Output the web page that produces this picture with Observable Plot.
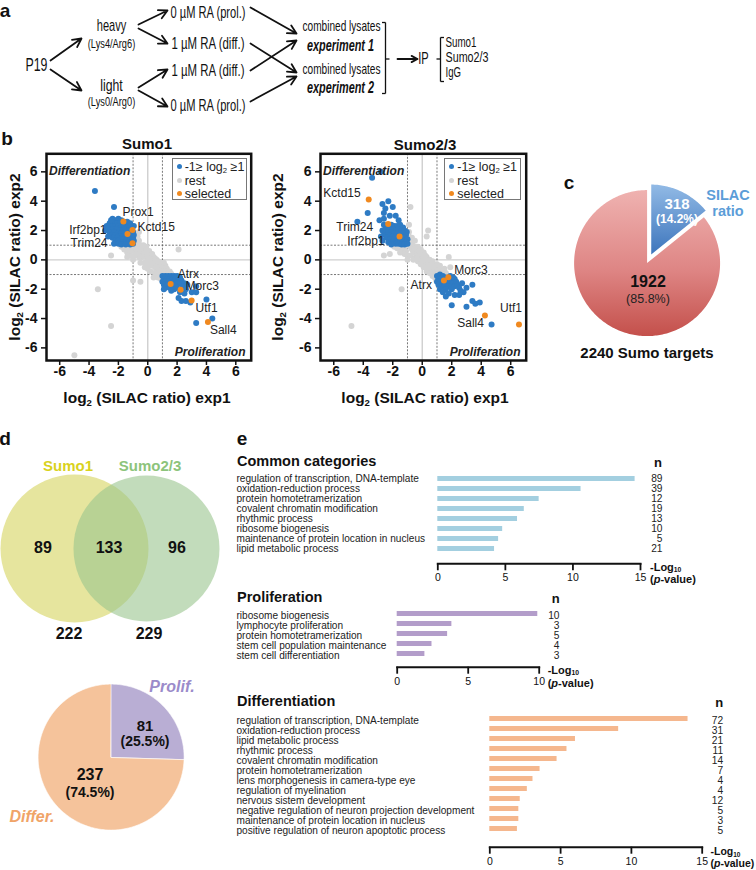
<!DOCTYPE html>
<html><head><meta charset="utf-8">
<script src="https://cdn.jsdelivr.net/npm/d3@7"></script>
<script src="https://cdn.jsdelivr.net/npm/@observablehq/plot@0.6"></script>
<style>
body{margin:0;background:#fff;}
#fig{position:relative;width:756px;height:870px;overflow:hidden;background:#fff;font-family:"Liberation Sans",Arial,Helvetica,sans-serif;color:#111;}
.lbl{position:absolute;white-space:nowrap;line-height:1;}
.box{position:absolute;}
.box svg{overflow:visible;}
sub{font-size:0.62em;vertical-align:-0.28em;line-height:0;}
</style></head><body><div id="fig"></div>
<script>
// ---------------- DATA ----------------
// panel a
const sourceLine = "P19";
const labelTypes = ["heavy", "light"];
const labelIsotopes = ["(Lys4/Arg6)", "(Lys0/Arg0)"];
const treatments = ["0 µM RA (prol.)", "1 µM RA (diff.)", "1 µM RA (diff.)", "0 µM RA (prol.)"];
const lysates = ["combined lysates", "combined lysates"];
const experiments = ["experiment 1", "experiment 2"];
const ipLabel = "IP";
const ipTargets = ["Sumo1", "Sumo2/3", "IgG"];

// panel b : points [log2 exp1, log2 exp2]
const sumo1Blue = [[-3.6,4.7],[-2.3,3.6],[-2.4,2.8],[-2.2,2.7],[-2.0,2.8],[-1.8,2.7],[-1.6,2.6],[-2.6,2.5],[-2.3,2.5],[-2.1,2.5],[-1.9,2.5],[-1.7,2.4],[-1.5,2.4],[-1.3,2.4],[-2.5,2.3],[-2.2,2.3],[-2.0,2.3],[-1.8,2.2],[-1.6,2.2],[-1.4,2.2],[-1.2,2.2],[-2.7,2.1],[-2.4,2.1],[-2.1,2.1],[-1.9,2.0],[-1.7,2.0],[-1.5,2.0],[-1.3,2.0],[-1.1,2.1],[-2.6,1.9],[-2.3,1.9],[-2.0,1.8],[-1.8,1.8],[-1.6,1.8],[-1.4,1.8],[-1.2,1.8],[-1.0,1.9],[-2.5,1.7],[-2.2,1.7],[-1.9,1.6],[-1.7,1.6],[-1.5,1.6],[-1.3,1.6],[-1.1,1.6],[-2.4,1.5],[-2.1,1.5],[-1.8,1.4],[-1.6,1.4],[-1.4,1.4],[-1.2,1.4],[-1.0,1.5],[-2.2,1.3],[-2.0,1.3],[-1.7,1.2],[-1.5,1.2],[-1.3,1.2],[-1.1,1.2],[-0.95,1.3],[-2.3,1.1],[-2.0,1.1],[-1.8,1.05],[-1.5,1.05],[-1.2,1.05],[-1.0,1.1],[-2.8,2.3],[-2.5,2.7],[-1.4,2.6],[-1.2,2.5],[-0.95,2.3],[-0.95,1.7],[-2.7,1.6],[-2.9,2.0],
 [1.0,-1.1],[1.2,-1.1],[1.4,-1.1],[1.6,-1.1],[1.8,-1.1],[2.0,-1.1],[2.2,-1.2],[1.1,-1.3],[1.3,-1.3],[1.5,-1.3],[1.7,-1.3],[1.9,-1.3],[2.1,-1.4],[2.3,-1.4],[1.0,-1.5],[1.2,-1.5],[1.4,-1.5],[1.8,-1.5],[2.0,-1.6],[2.2,-1.6],[2.5,-1.6],[1.1,-1.7],[1.3,-1.7],[1.7,-1.7],[1.9,-1.8],[2.4,-1.8],[1.2,-1.9],[1.5,-1.9],[1.8,-2.0],[2.0,-1.9],[2.6,-2.0],[1.1,-2.0],[2.2,-2.2],[2.7,-1.7],[3.3,-1.8],[3.0,-2.2],[3.3,-2.2],[2.3,-2.8],[2.6,-2.8],[2.1,-2.6],[2.9,-2.9],[4.0,-2.7],[4.4,-4.0],[3.3,-4.3],[2.5,-2.3],[1.6,-2.1]];
const sumo1Gray = [[-2.5,0.3],[-1.8,0.9],[-1.6,0.7],[-1.5,0.9],[-1.4,0.5],[-1.3,0.8],[-1.2,0.3],[-1.1,0.9],[-1.0,0.6],[-0.9,1.0],[-0.9,1.4],[-0.8,1.2],[-0.7,1.6],[-0.6,1.3],[-0.8,0.8],[-0.7,0.9],[-0.6,0.7],[-0.5,1.0],[-0.5,0.5],[-0.4,0.8],[-0.3,0.6],[-0.3,0.3],[-0.2,0.5],[-0.1,0.2],[0.0,0.3],[0.0,-0.1],[0.1,0.1],[0.2,-0.2],[0.3,0.0],[0.3,-0.4],[0.4,-0.2],[0.5,-0.5],[0.6,-0.3],[0.6,-0.7],[0.7,-0.5],[0.8,-0.8],[0.9,-0.6],[0.9,-1.0],[1.0,-0.8],[1.1,-0.7],[1.2,-0.9],[1.3,-0.6],[1.4,-0.9],[1.5,-0.8],[1.6,-0.95],[0.8,-1.1],[0.7,-1.2],[0.9,-1.3],[0.5,-0.9],[-0.2,-0.2],[-0.4,0.2],[-0.6,0.2],[-0.8,0.4],[-1.0,0.2],[0.2,0.4],[0.4,0.2],[0.6,0.0],[0.8,-0.3],[-0.1,0.6],[-0.3,1.0],[-0.1,0.9],[0.1,0.6],[0.3,0.4],[0.5,0.1],[0.7,-0.1],[1.0,-0.4],[1.2,-0.4],[-1.2,0.6],[-1.4,0.2],[-0.5,-0.2],[-0.2,-0.5],[0.0,-0.6],[0.2,-0.8],[0.4,-1.2],[-0.5,-1.5],[-1.0,-1.4],[-3.4,-2.0],[-2.5,-4.5],[-5.0,-6.5],[2.1,0.7],[-0.8,1.8],[-0.6,1.9],[-1.0,0.0],[0.1,-0.3],[-0.7,0.4],[0.9,-0.2],[1.1,-0.2]];
const sumo1SelNames = ["Prox1","Kctd15","Irf2bp1","Trim24","Atrx","Morc3","Utf1","Sall4"];
const sumo1SelX = [-1.66,-1.04,-1.38,-1.04,1.56,2.24,2.99,4.1];
const sumo1SelY = [2.61,2.04,1.77,1.13,-1.64,-2.04,-2.77,-4.23];

const sumo2Blue = [[-2.8,6.0],[-3.4,5.6],[-3.7,3.2],[-4.4,2.6],[-2.3,4.0],[-2.7,3.8],[-2.5,3.5],[-2.0,3.6],[-2.6,3.2],[-2.2,3.0],[-1.8,3.0],[-2.9,2.7],[-2.6,2.8],[-1.6,2.7],
 [-2.6,2.4],[-2.3,2.3],[-2.1,2.4],[-1.9,2.3],[-1.7,2.3],[-1.5,2.4],[-1.3,2.2],[-2.5,2.1],[-2.2,2.1],[-2.0,2.1],[-1.8,2.0],[-1.6,2.1],[-1.4,2.0],[-1.2,2.0],[-1.05,1.9],[-2.6,1.9],[-2.4,1.9],[-2.1,1.9],[-1.9,1.8],[-1.7,1.8],[-1.5,1.8],[-1.3,1.8],[-1.1,1.7],[-2.5,1.7],[-2.3,1.7],[-2.0,1.6],[-1.8,1.6],[-1.6,1.5],[-1.4,1.5],[-1.2,1.5],[-1.0,1.4],[-2.4,1.5],[-2.2,1.4],[-1.9,1.4],[-1.7,1.3],[-1.5,1.3],[-1.3,1.3],[-1.1,1.2],[-2.3,1.2],[-2.0,1.2],[-1.8,1.1],[-1.6,1.1],[-1.4,1.05],[-1.2,1.05],[-1.0,1.1],[-2.1,1.05],[-2.7,1.3],[-2.8,1.6],[-2.7,2.0],
 [1.0,-1.1],[1.2,-1.0],[1.4,-1.1],[1.6,-1.2],[1.9,-1.1],[2.1,-1.2],[1.1,-1.3],[1.3,-1.3],[1.6,-1.4],[1.8,-1.3],[2.0,-1.4],[2.2,-1.3],[1.0,-1.5],[1.2,-1.5],[1.4,-1.6],[1.7,-1.6],[1.9,-1.6],[2.1,-1.6],[2.3,-1.5],[1.1,-1.7],[1.3,-1.8],[1.5,-1.8],[1.8,-1.8],[2.0,-1.8],[2.2,-1.8],[2.4,-1.7],[1.2,-2.0],[1.6,-2.0],[2.0,-2.0],[2.5,-1.9],[1.4,-2.2],[1.8,-2.3],[2.2,-2.4],[2.5,-2.4],[1.6,-2.5],[2.0,-3.1],[2.7,-1.6],[3.0,-1.9],[2.8,-2.2],[3.4,-1.7],[3.4,-2.8],[3.6,-3.0],[3.0,-3.2],[3.9,-2.9],[4.7,-4.4],[2.6,-2.1]];
const sumo2Gray = [[-4.8,-4.5],[-1.4,-2.0],[-2.6,0.3],[-2.2,0.4],[-0.8,3.6],[0.4,2.0],[0.3,1.6],[1.9,-0.5],[1.8,0.2],[-0.9,2.4],
 [-1.9,0.9],[-1.7,0.8],[-1.5,0.9],[-1.4,0.7],[-1.2,0.9],[-1.1,0.6],[-0.95,1.2],[-0.9,1.6],[-0.8,1.3],[-0.8,0.9],[-0.7,1.1],[-0.7,0.7],[-0.6,0.9],[-0.6,0.5],[-0.5,0.8],[-0.5,1.3],[-0.4,0.6],[-0.4,0.3],[-0.3,0.5],[-0.3,0.9],[-0.2,0.3],[-0.2,0.1],[-0.1,0.4],[0.0,0.1],[0.0,-0.2],[0.1,0.2],[0.1,-0.1],[0.2,-0.3],[0.2,0.0],[0.3,-0.2],[0.3,-0.5],[0.4,-0.3],[0.5,-0.5],[0.5,-0.2],[0.6,-0.6],[0.6,-0.4],[0.7,-0.7],[0.7,-0.3],[0.8,-0.8],[0.8,-0.5],[0.9,-1.0],[0.9,-0.7],[1.0,-0.8],[1.0,-0.6],[1.1,-0.9],[1.2,-0.7],[1.3,-0.9],[1.4,-0.8],[1.5,-0.6],[1.6,-0.9],[0.85,-1.2],[0.7,-1.1],[0.95,-1.4],[-1.2,0.4],[-1.0,0.3],[-0.8,0.3],[-0.5,0.1],[-0.3,-0.1],[-0.1,-0.3],[0.1,-0.5],[0.3,-0.8],[0.5,-0.9],[-0.1,0.7],[0.1,0.5],[0.3,0.2],[0.5,0.0],[0.7,-0.1],[1.0,-0.3],[1.2,-0.4],[-0.7,1.5],[-0.9,1.9],[-1.5,0.5],[-0.6,0.0],[-0.2,0.6],[0.2,0.3],[-1.0,0.0]];
const sumo2SelNames = ["Kctd15","Trim24","Irf2bp1","Morc3","Atrx","Sall4","Utf1"];
const sumo2SelX = [-3.63,-2.31,-1.54,1.77,1.47,4.25,6.56];
const sumo2SelY = [4.11,2.45,1.59,-1.18,-1.41,-3.8,-4.41];
const scatterTicks = [-6,-4,-2,0,2,4,6];
const legendItems = ["-1≥ log<sub>2</sub> ≥1", "rest", "selected"];

// panel c
const pieCLabels = ["SILAC ratio", "other"];
const pieCCounts = [318, 1922];
const pieCTotalLabel = "Sumo targets";

// panel d
const vennNames = ["Sumo1", "Sumo2/3"];
const vennOnly = [89, 96];
const vennShared = 133;
const vennTotals = [222, 229];
const pieDLabels = ["Prolif.", "Differ."];
const pieDCounts = [81, 237];

// panel e
const commonTerms = ["regulation of transcription, DNA-template","oxidation-reduction process","protein homotetramerization","covalent chromatin modification","rhythmic process","ribosome biogenesis","maintenance of protein location in nucleus","lipid metabolic process"];
const commonLogP = [14.6,10.6,7.5,6.4,5.9,4.8,4.5,4.2];
const commonN = [89,39,12,19,13,10,5,21];
const prolTerms = ["ribosome biogenesis","lymphocyte proliferation","protein homotetramerization","stem cell population maintenance","stem cell differentiation"];
const prolLogP = [9.9,3.85,3.55,2.45,1.95];
const prolN = [10,3,5,4,3];
const diffTerms = ["regulation of transcription, DNA-template","oxidation-reduction process","lipid metabolic process","rhythmic process","covalent chromatin modification","protein homotetramerization","lens morphogenesis in camera-type eye","regulation of myelination","nervous sistem development","negative regulation of neuron projection development","maintenance of protein location in nucleus","positive regulation of neuron apoptotic process"];
const diffLogP = [14.0,9.1,6.05,5.45,4.75,3.55,3.05,2.65,2.15,2.05,2.05,1.95];
const diffN = [72,31,21,11,14,7,4,4,12,5,3,5];

// ---------------- HELPERS ----------------
const FONT = '"Liberation Sans", Arial, Helvetica, sans-serif';
const fig = document.getElementById("fig");
function put(node, left, top) {
  const w = document.createElement("div");
  w.className = "box"; w.style.left = left + "px"; w.style.top = top + "px";
  w.appendChild(node); fig.appendChild(w); return node;
}
function label(html, x, y, o = {}) {
  const d = document.createElement("div");
  d.className = "lbl"; d.innerHTML = html;
  const ax = o.anchor === "start" ? "0" : o.anchor === "end" ? "-100%" : "-50%";
  d.style.left = x + "px"; d.style.top = y + "px";
  d.style.transform = `translate(${ax},-50%)` + (o.rotate ? ` rotate(${o.rotate}deg)` : "");
  d.style.fontSize = (o.size || 12) + "px";
  if (o.bold) d.style.fontWeight = "bold";
  if (o.italic) d.style.fontStyle = "italic";
  if (o.color) d.style.color = o.color;
  fig.appendChild(d);
}
const pct = (v, tot) => (100 * v / tot).toFixed(1) + "%";

// ---------------- PANEL A (diagram) ----------------
// layout: position, font size and the (condensed) width each text occupies
const aText = [
  {text: sourceLine, x: 36, y: 65, size: 18, w: 22},
  {text: labelTypes[0], x: 111, y: 25, size: 17, w: 29.5},
  {text: labelIsotopes[0], x: 111, y: 43.5, size: 12.5, w: 47.5},
  {text: labelTypes[1], x: 111, y: 85, size: 17, w: 22.5},
  {text: labelIsotopes[1], x: 111, y: 101, size: 12.5, w: 47.5},
  {text: treatments[0], x: 207.5, y: 12, size: 16, w: 75},
  {text: treatments[1], x: 207.5, y: 43, size: 16, w: 73},
  {text: treatments[2], x: 207.5, y: 70, size: 16, w: 73},
  {text: treatments[3], x: 207.5, y: 105, size: 16, w: 75},
  {text: lysates[0], x: 341, y: 26, size: 15, w: 78},
  {text: lysates[1], x: 341, y: 68.5, size: 15, w: 78},
  {text: ipLabel, x: 423, y: 58.5, size: 17, w: 10.5}
];
const aBold = [{text: experiments[0], x: 340, y: 45, w: 67}, {text: experiments[1], x: 340, y: 87.5, w: 67}];
const aStart = ipTargets.map((t, i) => ({text: t, x: 445, y: 42 + 15 * i, w: [31, 43, 15.5][i]}));
const aArrows = [
  {x1: 50, y1: 60, x2: 81, y2: 38}, {x1: 50, y1: 69, x2: 81, y2: 90},
  {x1: 138, y1: 24, x2: 167, y2: 10}, {x1: 138, y1: 28, x2: 167, y2: 43},
  {x1: 138, y1: 87, x2: 167, y2: 69}, {x1: 138, y1: 90, x2: 167, y2: 106},
  {x1: 250, y1: 7, x2: 296, y2: 33}, {x1: 250, y1: 43, x2: 296, y2: 72},
  {x1: 250, y1: 70, x2: 296, y2: 40}, {x1: 250, y1: 101, x2: 296, y2: 76},
  {x1: 397, y1: 58.5, x2: 417, y2: 58.5}
];
const aSegs = [
  {x1: 381.5, y1: 22, x2: 385, y2: 22}, {x1: 385, y1: 22, x2: 385, y2: 93}, {x1: 381.5, y1: 93, x2: 385, y2: 93}, {x1: 385, y1: 58.5, x2: 389, y2: 58.5},
  {x1: 443.5, y1: 37, x2: 440, y2: 37}, {x1: 440, y1: 37, x2: 440, y2: 81}, {x1: 443.5, y1: 81, x2: 440, y2: 81}, {x1: 436, y1: 58.5, x2: 440, y2: 58.5}
];
const aSvg = put(Plot.plot({
  width: 756, height: 120, margin: 0,
  x: {domain: [0, 756], range: [0, 756], axis: null},
  y: {domain: [0, 120], range: [0, 120], axis: null},
  style: {fontFamily: FONT, overflow: "visible"},
  marks: [
    Plot.arrow(aArrows, {x1: "x1", y1: "y1", x2: "x2", y2: "y2", stroke: "#111", strokeWidth: 1.8, headLength: 8, headAngle: 55}),
    Plot.link(aSegs, {x1: "x1", y1: "y1", x2: "x2", y2: "y2", stroke: "#111", strokeWidth: 1.3}),
    Plot.text(aText, {x: "x", y: "y", text: "text", fontSize: d => d.size, fill: "#111"}),
    Plot.text(aBold, {x: "x", y: "y", text: "text", fontSize: 16, fontWeight: "bold", fontStyle: "italic", fill: "#111"}),
    Plot.text(aStart, {x: "x", y: "y", text: "text", fontSize: 14.5, textAnchor: "start", fill: "#111"})
  ]
}), 0, 0);
// condense the diagram texts to the narrow widths of the original typeface
{
  const widths = [...aText, ...aBold, ...aStart].map(d => d.w);
  d3.select(aSvg).selectAll("text").each(function (_, i) {
    if (widths[i] != null) {
      this.setAttribute("textLength", widths[i]);
      this.setAttribute("lengthAdjust", "spacingAndGlyphs");
    }
  });
}

// ---------------- PANEL B (scatter) ----------------
const pt = d => ({x: d[0], y: d[1]});
function scatter(o) {
  const sel = o.names.map((n, i) => ({name: n, x: o.sx[i], y: o.sy[i]}));
  const labelMarks = sel.map((d, i) => Plot.text([d], {
    x: "x", y: "y", text: "name", dx: o.lab[i].dx, dy: o.lab[i].dy,
    textAnchor: o.lab[i].a, fontSize: 12, fill: "#222"
  }));
  return Plot.plot({
    width: o.width, height: 300,
    marginLeft: o.marginLeft, marginRight: o.marginRight, marginTop: 33.3, marginBottom: 60,
    x: {domain: [-6.9, 7.05]},
    y: {domain: [-6.86, 7.23]},
    style: {fontFamily: FONT, overflow: "visible"},
    marks: [
      Plot.ruleX([0], {stroke: "#cfcfcf", strokeWidth: 1.4}),
      Plot.ruleY([0], {stroke: "#cfcfcf", strokeWidth: 1.4}),
      Plot.ruleX([-1, 1], {stroke: "#555", strokeWidth: 0.8, strokeDasharray: "2,1.5"}),
      Plot.ruleY([-1, 1], {stroke: "#555", strokeWidth: 0.8, strokeDasharray: "2,1.5"}),
      Plot.dot(o.gray.map(pt), {x: "x", y: "y", r: 3, fill: "#d4d4d4"}),
      Plot.dot(o.blue.map(pt), {x: "x", y: "y", r: 3, fill: "#2e7bc4"}),
      Plot.dot(sel, {x: "x", y: "y", r: 3, fill: "#f0891f"}),
      ...labelMarks,
      Plot.text(["Differentiation"], {text: d => d, frameAnchor: "top-left", dx: 2.6, dy: 12.7, textAnchor: "start", fontWeight: "bold", fontStyle: "italic", fontSize: 12, fill: "#222"}),
      Plot.text(["Proliferation"], {text: d => d, frameAnchor: "bottom-right", dx: -5.7, dy: -5, textAnchor: "end", fontWeight: "bold", fontStyle: "italic", fontSize: 12, fill: "#222"}),
      Plot.axisX({ticks: scatterTicks, tickFormat: d => String(d), tickSize: 5, tickPadding: 1, fontSize: 14, fontWeight: "bold", strokeWidth: 1.5, label: null}),
      Plot.axisY({ticks: scatterTicks, tickFormat: d => String(d), tickSize: 5, tickPadding: 4, fontSize: 14, fontWeight: "bold", strokeWidth: 1.5, label: null}),
      Plot.frame({stroke: "#111", strokeWidth: 2.5})
    ]
  });
}
put(scatter({
  width: 285, marginLeft: 46, marginRight: 34.3,
  blue: sumo1Blue, gray: sumo1Gray, names: sumo1SelNames, sx: sumo1SelX, sy: sumo1SelY,
  lab: [{a: "start", dx: -1, dy: -9}, {a: "start", dx: 5, dy: -3}, {a: "end", dx: -21, dy: -4}, {a: "end", dx: -25, dy: 0},
        {a: "start", dx: 7, dy: -10}, {a: "start", dx: 5, dy: -4}, {a: "start", dx: 4, dy: 8}, {a: "start", dx: 2, dy: 8}]
}), 0, 120);
put(scatter({
  width: 275, marginLeft: 55, marginRight: 14.3,
  blue: sumo2Blue, gray: sumo2Gray, names: sumo2SelNames, sx: sumo2SelX, sy: sumo2SelY,
  lab: [{a: "end", dx: -8, dy: -6}, {a: "end", dx: -15, dy: 3}, {a: "end", dx: -15, dy: 5}, {a: "start", dx: 6, dy: -7},
        {a: "end", dx: -12, dy: 5}, {a: "end", dx: -1, dy: 8}, {a: "end", dx: 3, dy: -16}]
}), 265, 120);

function scatterLegend(left, top, w) {
  const b = document.createElement("div");
  b.style.cssText = `position:absolute;left:${left}px;top:${top}px;width:${w}px;height:42px;border:1px solid #777;background:#fff;box-sizing:border-box;`;
  fig.appendChild(b);
  const cols = ["#2e7bc4", "#d4d4d4", "#f0891f"];
  legendItems.forEach((t, i) => {
    const y = top + 8.4 + [0, 14, 27][i];
    const dot = document.createElement("div");
    dot.style.cssText = `position:absolute;left:${left + 5}px;top:${y - 2.6}px;width:5.2px;height:5.2px;border-radius:50%;background:${cols[i]};`;
    fig.appendChild(dot);
    label(t, left + 13, y, {anchor: "start", size: 12.5, color: "#222"});
  });
}
scatterLegend(171.7, 158.3, 75);
scatterLegend(444.3, 158.3, 77);

label("Sumo1", 147, 143, {size: 15, bold: true});
label("Sumo2/3", 425, 144, {size: 15, bold: true});
label("log<sub>2</sub> (SILAC ratio) exp1", 147, 398, {size: 15.5, bold: true});
label("log<sub>2</sub> (SILAC ratio) exp1", 425, 398, {size: 15.5, bold: true});
label("log<sub>2</sub> (SILAC ratio) exp2", 15, 257, {size: 15.5, bold: true, rotate: -90});
label("log<sub>2</sub> (SILAC ratio) exp2", 278, 257, {size: 15.5, bold: true, rotate: -90});

// ---------------- PIES (C and D) ----------------
function wedge(a0, a1, off) {
  const m = (a0 + a1) / 2, cx = off * Math.sin(m), cy = off * Math.cos(m);
  const pts = [[cx, cy]];
  const n = Math.max(2, Math.ceil((a1 - a0) / 0.02));
  for (let i = 0; i <= n; i++) { const a = a0 + (a1 - a0) * i / n; pts.push([cx + Math.sin(a), cy + Math.cos(a)]); }
  pts.push([cx, cy]);
  return {type: "Feature", geometry: {type: "Polygon", coordinates: [pts]}};
}
const pieDomain = {type: "MultiPoint", coordinates: [[-1.2, -1.2], [1.2, 1.2]]};
const PIE = 175.2;

const arcsC = d3.pie().sort(null)(pieCCounts);
const featC = arcsC.map((a, i) => wedge(a.startAngle, a.endAngle, i === 0 ? 0.1 : 0));
const plotC = Plot.plot({
  width: PIE, height: PIE, margin: 0,
  projection: {type: "reflect-y", domain: pieDomain},
  marks: [
    Plot.geo([featC[1]], {fill: "url(#gRedC)", stroke: "none"}),
    Plot.geo([featC[0]], {fill: "url(#gBlueC)", stroke: "white", strokeWidth: 2})
  ]
});
d3.select(plotC).insert("defs", ":first-child").html(
  '<linearGradient id="gRedC" x1="0" y1="0" x2="0" y2="1"><stop offset="0" stop-color="#efb2b0"/><stop offset="0.55" stop-color="#de8584"/><stop offset="1" stop-color="#c4504b"/></linearGradient>' +
  '<linearGradient id="gBlueC" x1="0" y1="0" x2="0" y2="1"><stop offset="0" stop-color="#93bbe6"/><stop offset="1" stop-color="#3a73bb"/></linearGradient>');
put(plotC, 646.3 - PIE / 2, 263 - PIE / 2);
const totC = d3.sum(pieCCounts);
label("c", 569, 182, {size: 19, bold: true});
label(String(pieCCounts[0]), 677, 203, {size: 15, bold: true, color: "#fff"});
label("(" + pct(pieCCounts[0], totC) + ")", 677, 218.5, {size: 12, bold: true, color: "#fff"});
label("SILAC", 728, 194.5, {size: 14.5, bold: true, color: "#5b9dd8"});
label("ratio", 728, 211, {size: 14.5, bold: true, color: "#5b9dd8"});
label(String(pieCCounts[1]), 648, 282, {size: 16, bold: true});
label("(" + pct(pieCCounts[1], totC) + ")", 648, 298.5, {size: 12.5, color: "#222"});
label(totC + " " + pieCTotalLabel, 647, 352, {size: 15, bold: true});

// Venn
const vennLayout = [{cx: 74, cy: 548}, {cx: 146, cy: 548}];
const vennRows = vennNames.map((n, i) => ({name: n, only: vennOnly[i], total: vennTotals[i], ...vennLayout[i]}));
put(Plot.plot({
  width: 250, height: 200, margin: 0,
  x: {domain: [0, 250], range: [0, 250], axis: null},
  y: {domain: [460, 660], range: [0, 200], axis: null},
  marks: [
    Plot.dot([vennRows[0]], {x: "cx", y: "cy", r: 74, fill: "#e6e59e"}),
    Plot.dot([vennRows[1]], {x: "cx", y: "cy", r: 73, fill: "#99c58e", fillOpacity: 0.6})
  ]
}), 0, 460);
label("d", 5, 438, {size: 19, bold: true});
label(vennNames[0], 68, 465, {size: 15, bold: true, color: "#d9d21d"});
label(vennNames[1], 150, 465, {size: 15, bold: true, color: "#8dc47b"});
label(String(vennOnly[0]), 43, 548, {size: 16, bold: true});
label(String(vennShared), 109, 548, {size: 16, bold: true});
label(String(vennOnly[1]), 177, 548, {size: 16, bold: true});
label(String(vennTotals[0]), 69, 634, {size: 16, bold: true});
label(String(vennTotals[1]), 149, 634, {size: 16, bold: true});

// Pie d
const arcsD = d3.pie().sort(null)(pieDCounts);
const featD = arcsD.map(a => wedge(a.startAngle, a.endAngle, 0));
put(Plot.plot({
  width: PIE, height: PIE, margin: 0,
  projection: {type: "reflect-y", domain: pieDomain},
  marks: [
    Plot.geo([featD[1]], {fill: "#f5c39b", stroke: "white", strokeWidth: 0.6}),
    Plot.geo([featD[0]], {fill: "#b9aed4", stroke: "white", strokeWidth: 0.6})
  ]
}), 111 - PIE / 2, 757 - PIE / 2);
const totD = d3.sum(pieDCounts);
label(pieDLabels[0], 172, 687, {size: 16, bold: true, italic: true, color: "#9b8bca"});
label(pieDLabels[1], 32, 817, {size: 16, bold: true, italic: true, color: "#f0a468"});
label(String(pieDCounts[0]), 145, 725, {size: 15, bold: true});
label("(" + pct(pieDCounts[0], totD) + ")", 145, 740.5, {size: 14, bold: true});
label(String(pieDCounts[1]), 90, 775, {size: 16, bold: true});
label("(" + pct(pieDCounts[1], totD) + ")", 90, 792, {size: 14, bold: true});

// ---------------- PANEL E (GO bars) ----------------
function goChart(o) {
  const rows = o.terms.map((t, i) => ({term: t, v: o.values[i], n: o.ns[i]}));
  return Plot.plot({
    width: 526, height: o.height,
    marginLeft: o.ml, marginRight: o.mr, marginTop: o.mt, marginBottom: o.mb,
    x: {domain: [0, o.xmax]},
    y: {domain: o.terms, paddingInner: 0.5, paddingOuter: o.po, axis: null},
    style: {fontFamily: FONT, overflow: "visible"},
    marks: [
      Plot.barX(rows, {x: "v", y: "term", fill: o.color}),
      Plot.text(rows, {y: "term", text: "term", frameAnchor: "left", dx: o.labelDx, dy: o.textDy, textAnchor: "start", fontSize: 10.1, fill: "#222"}),
      Plot.text(rows, {y: "term", text: d => String(d.n), frameAnchor: "right", dx: o.nDx, dy: o.textDy, textAnchor: "end", fontSize: 10.2, fill: "#222"}),
      Plot.axisX({ticks: o.ticks, tickSize: 7, tickPadding: 3, fontSize: 10.5, strokeWidth: 1.8, label: null}),
      Plot.frame({anchor: "bottom", stroke: "#111", strokeWidth: 2})
    ]
  });
}
put(goChart({terms: commonTerms, values: commonLogP, ns: commonN, color: "#a3cfe0", height: 140,
  ml: 207.3, mr: 116, mt: 13.4, mb: 26.7, po: 0.93, xmax: 15, ticks: [0, 5, 10, 15], labelDx: -201.3, nDx: 22, textDy: 0}), 230, 450);
put(goChart({terms: prolTerms, values: prolLogP, ns: prolN, color: "#b39dca", height: 105,
  ml: 166.7, mr: 217.3, mt: 10, mb: 28.3, po: 0.875, xmax: 10, ticks: [0, 5, 10], labelDx: -160.7, nDx: 20.3, textDy: 2}), 230, 590);
put(goChart({terms: diffTerms, values: diffLogP, ns: diffN, color: "#f5b78e", height: 180,
  ml: 259.3, mr: 54.3, mt: 11.3, mb: 23.3, po: 0.86, xmax: 15, ticks: [0, 5, 10, 15], labelDx: -253.3, nDx: 21, textDy: 1.5}), 230, 690);

label("e", 242, 438, {size: 19, bold: true});
label("Common categories", 237, 461, {anchor: "start", size: 14.5, bold: true});
label("Proliferation", 237, 597, {anchor: "start", size: 14.5, bold: true});
label("Differentiation", 237, 701, {anchor: "start", size: 14.5, bold: true});
label("n", 658, 462, {size: 13, bold: true});
label("n", 555.7, 598, {size: 13, bold: true});
label("n", 719.3, 702.3, {size: 13, bold: true});
[[650, 567, 579, 11], [547.7, 670, 682.7, 11], [710.5, 851, 862.5, 10.5]].forEach(([x, y1, y2, s]) => {
  label("-Log<sub>10</sub>", x, y1, {anchor: "start", size: s, bold: true});
  label("(<i>p</i>-value)", x, y2, {anchor: "start", size: s, bold: true});
});

// panel letters a, b
label("a", 5, 10, {size: 19, bold: true});
label("b", 7, 138, {size: 19, bold: true});
</script></body></html>
